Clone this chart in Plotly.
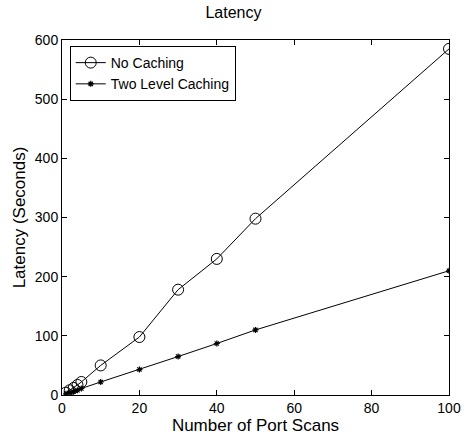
import plotly.graph_objects as go

scans = [1, 2, 3, 4, 5, 10, 20, 30, 40, 50, 100]
no_caching = [4, 8, 12, 17, 22, 50, 98, 178, 230, 298, 585]
two_level = [2, 4, 6, 8, 11, 22, 43, 65, 87, 110, 210]

fig = go.Figure()
fig.add_trace(go.Scatter(x=scans, y=no_caching, mode="lines+markers", name="No Caching",
                         line=dict(color="black", width=1),
                         marker=dict(symbol="circle-open", size=11, color="black", line=dict(width=1))))
fig.add_trace(go.Scatter(x=scans, y=two_level, mode="lines+markers", name="Two Level Caching",
                         line=dict(color="black", width=1),
                         marker=dict(symbol="asterisk-open", size=5, color="black", line=dict(width=1.2))))

font = "Liberation Sans, Arial, sans-serif"
axis_common = dict(showgrid=False, zeroline=False, showline=True, linecolor="black", linewidth=1,
                   mirror="ticks", ticks="inside", ticklen=5, tickcolor="black", automargin=False,
                   tickfont=dict(family=font, size=14, color="black"))
fig.update_layout(
    width=467, height=439,
    margin=dict(l=62, r=18, t=40, b=44),
    paper_bgcolor="white", plot_bgcolor="white",
    title=dict(text="Latency", x=0.5, xanchor="center", y=0.972, yanchor="middle",
               font=dict(family=font, size=16, color="black")),
    xaxis=dict(range=[0, 100], dtick=20, title=dict(text="Number of Port Scans", standoff=2,
               font=dict(family=font, size=17, color="black")), **axis_common),
    yaxis=dict(range=[0, 600], dtick=100, title=dict(text="Latency (Seconds)", standoff=4,
               font=dict(family=font, size=17, color="black")), **axis_common),
    legend=dict(x=0.02, y=0.983, xanchor="left", yanchor="top", bgcolor="white",
                bordercolor="black", borderwidth=1, font=dict(family=font, size=14, color="black"),
                itemwidth=30, tracegroupgap=0),
    showlegend=True,
)
fig.write_html("out.html")
